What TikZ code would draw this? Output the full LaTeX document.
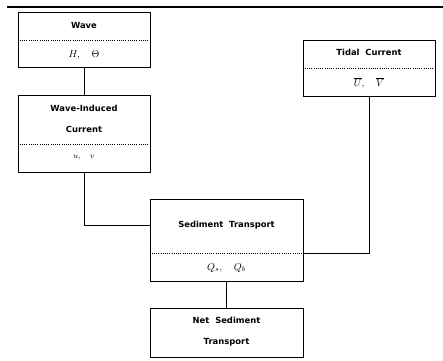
\documentclass[tikz,border=0pt]{standalone}
\usepackage{amsmath,amssymb}
\usepackage{fontspec}
\newfontfamily\boxfont{DejaVu Sans}
\usepackage{tikz}
\usetikzlibrary{positioning,calc}
\tikzset{
  box/.style={draw,line width=1pt,minimum width=#1,inner sep=0pt},
  ttl/.style={font=\boxfont\bfseries\fontsize{8.4}{9}\selectfont,inner sep=1pt},
  var/.style={font=\fontsize{10}{11}\selectfont,inner sep=1pt},
  sep/.style={line width=0.9pt,dash pattern=on 0.9pt off 1.3pt},
  con/.style={line width=0.9pt},
}

\begin{document}
\begin{tikzpicture}[x=1pt,y=1pt]
 \useasboundingbox (0,0) rectangle (443,360);
 \draw[line width=1.2pt] (7,353)--(443,353);
 % boxes
 \node[box=132pt,minimum height=55pt] (wave) at (84,320.5){};
 \node[box=132pt,minimum height=77pt] (ind) at (84,226.5){};
 \node[box=132pt,minimum height=56pt] (tide) at (369,292){};
 \node[box=153pt,minimum height=82pt] (sed) at (226.5,120){};
 \node[box=153pt,minimum height=49pt] (net) at (226.5,27.5){};
 % titles
 \node[ttl] (wavet) at (84,335){Wave};
 \node[ttl] (indt) at (84,252){Wave-Induced};
 \node[ttl] (indt2) at (84,231){Current};
 \node[ttl] (tidet) at (369,308){Tidal\ \ Current};
 \node[ttl] (sedt) at (226.5,135){Sediment\ \ Transport};
 \node[ttl] (nett) at (226.5,40){Net\ \ Sediment};
 \node[ttl] (nett2) at (226.5,18){Transport};
 % variables
 \node[var] (wavev) at (84,305){$H,\quad \Theta$};
 \node[var] (indv) at (84,202){\footnotesize $u,\quad v$};
 \node[var] (tidev) at (369,277){$\overline{U},\quad \overline{V}$};
 \node[var] (sedv) at (226.5,92){$Q_s,\quad Q_b$};
 % dotted separators
 \coordinate (wavel) at (84,320); \coordinate (indl) at (84,216);
 \coordinate (tidel) at (369,292); \coordinate (sedl) at (226.5,107);
 \draw[sep] (wavel -| wave.west)--(wavel -| wave.east);
 \draw[sep] (indl -| ind.west)--(indl -| ind.east);
 \draw[sep] (tidel -| tide.west)--(tidel -| tide.east);
 \draw[sep] (sedl -| sed.west)--(sedl -| sed.east);
 % connectors
 \draw[con] (wave.south)--(ind.north);
 \draw[con] (ind.south)|-(sedt -| sed.west);
 \draw[con] (tide.south)|-(sedl -| sed.east);
 \draw[con] (sed.south)--(net.north);
\end{tikzpicture}
\end{document}
